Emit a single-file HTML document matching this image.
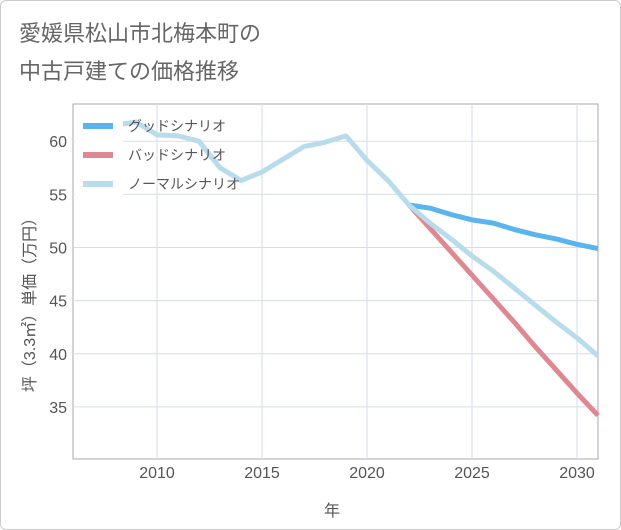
<!DOCTYPE html>
<html><head><meta charset="utf-8"><style>
body{margin:0;background:#fff;}
#c{width:621px;height:530px;position:relative;background:#fff;border:1px solid #ccc;box-sizing:border-box;border-radius:6px;overflow:hidden}
text{font-family:"Liberation Sans","Noto Sans CJK JP",sans-serif}
</style></head><body>
<div id="c">
<svg id="s" width="621" height="530">
<text x="18" y="40" font-size="22" fill="#666">愛媛県松山市北梅本町の</text>
<text x="18" y="78" font-size="22" fill="#666">中古戸建ての価格推移</text>
<text x="331" y="515" font-size="16" fill="#555" text-anchor="middle">年</text>
<text transform="translate(34,300) rotate(-90)" font-size="16" fill="#555" text-anchor="middle">坪（3.3㎡）単価（万円）</text>
<g id="g"></g>
</svg>
</div>
<script>
const years=[2008,2009,2010,2011,2012,2013,2014,2015,2016,2017,2018,2019,2020,2021,2022,2023,2024,2025,2026,2027,2028,2029,2030,2031];
const normal=[61.5,61.8,60.6,60.5,60.0,57.5,56.3,57.1,58.3,59.5,59.9,60.5,58.2,56.3,54.0,52.3,50.8,49.2,47.8,46.2,44.6,43.0,41.5,39.8];
const fYears=[2022,2023,2024,2025,2026,2027,2028,2029,2030,2031];
const good=[54.0,53.7,53.1,52.6,52.3,51.7,51.2,50.8,50.3,49.9];
const bad=[54.0,51.8,49.6,47.4,45.2,43.0,40.7,38.5,36.3,34.2];
const xTicks=[2010,2015,2020,2025,2030];
const yTicks=[35,40,45,50,55,60];
const L=72,R=597,T=103,B=458;
const X=y=>L+(y-2006)*(R-L)/25;
const Y=v=>B-(v-30.1)*(B-T)/(63.5-30.1);
const g=document.getElementById('g');const NS='http://www.w3.org/2000/svg';
function mk(t,a){const e=document.createElementNS(NS,t);for(const k in a)e.setAttribute(k,a[k]);g.appendChild(e);return e;}
let r=mk('rect',{x:L,y:T,width:R-L,height:B-T,fill:'none',stroke:'#aaa'});


for(const t of xTicks){let l=mk('line',{x1:X(t),x2:X(t),y1:T,y2:B,stroke:'#d5dee8'});


let tx=mk('text',{x:X(t),y:B+19,'font-size':16,fill:'#555','text-anchor':'middle'});tx.textContent=t;

}
for(const t of yTicks){let l=mk('line',{x1:L,x2:R,y1:Y(t),y2:Y(t),stroke:'#d5dee8'});


let tx=mk('text',{x:L-6,y:Y(t)+6,'font-size':16,fill:'#555','text-anchor':'end'});tx.textContent=t;

}
function line(xs,vs,c,n){let p=mk('polyline',{points:xs.map((x,i)=>X(x)+','+Y(vs[i])).join(' '),fill:'none',stroke:c,'stroke-width':5,'stroke-linejoin':'round'});

}
line(fYears,good,'#5ab4ee','good-scenario-line');
line(fYears,bad,'#de8891','bad-scenario-line');
line(years,normal,'#b9dcec','normal-scenario-line');
let bg=mk('rect',{x:74,y:108,width:48,height:90,fill:'#fff'});


const leg=[['グッドシナリオ','#5ab4ee'],['バッドシナリオ','#de8891'],['ノーマルシナリオ','#b9dcec']];
leg.forEach((d,i)=>{const y=125+i*29;
let l=mk('line',{x1:82,x2:112,y1:y,y2:y,stroke:d[1],'stroke-width':6});


let t=mk('text',{x:127,y:y+5,'font-size':14,fill:'#555'});t.textContent=d[0];

});
</script>
</body></html>
